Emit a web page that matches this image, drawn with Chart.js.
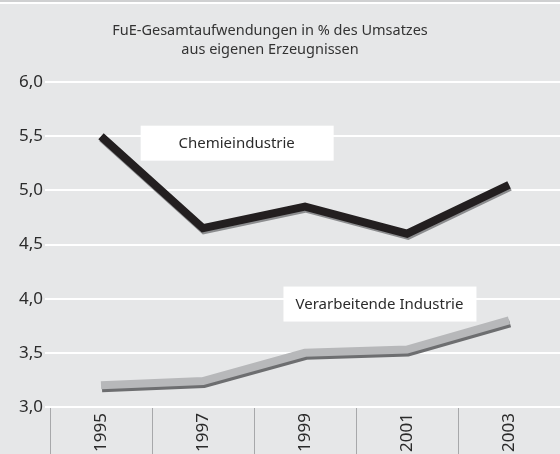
<!DOCTYPE html>
<html>
<head>
<meta charset="utf-8">
<style>
  html, body { margin: 0; padding: 0; background: #e6e7e8; }
  #wrap { width: 560px; height: 454px; }
</style>
<script src="https://cdn.jsdelivr.net/npm/chart.js@4/dist/chart.umd.min.js"></script>
</head>
<body>
<div id="wrap"><canvas id="fueChart" width="560" height="454"></canvas></div>
<script>
const years = ['1995', '1997', '1999', '2001', '2003'];
const chemie = [5.5, 4.65, 4.85, 4.6, 5.05];
const verarbeitend = [3.2, 3.24, 3.5, 3.53, 3.8];
const titleLines = ['FuE-Gesamtaufwendungen in % des Umsatzes', 'aus eigenen Erzeugnissen'];
const seriesNames = ['Chemieindustrie', 'Verarbeitende Industrie'];

const FONT = '"Noto Sans", "DejaVu Sans", sans-serif';

// background, top stripe, title and the two white name boxes
const decor = {
  id: 'decor',
  beforeDraw(chart) {
    const c = chart.ctx;
    c.save();
    c.fillStyle = '#e6e7e8';
    c.fillRect(0, 0, chart.width, chart.height);
    c.fillStyle = '#cfd0d1';
    c.fillRect(0, 0, chart.width, 2);
    c.fillStyle = '#ffffff';
    c.fillRect(0, 2, chart.width, 2);
    c.fillStyle = '#333333';
    c.font = '14.5px ' + FONT;
    c.textAlign = 'center';
    c.textBaseline = 'middle';
    c.fillText(titleLines[0], 270, 31);
    c.fillText(titleLines[1], 270, 50);
    c.restore();
  },
  afterDatasetsDraw(chart) {
    const c = chart.ctx;
    const x = chart.scales.x, y = chart.scales.y;
    const boxes = [
      { text: seriesNames[0], cx: 1.33, cy: 5.44 },
      { text: seriesNames[1], cx: 2.73, cy: 3.955 }
    ];
    c.save();
    c.font = '15px ' + FONT;
    c.textAlign = 'center';
    c.textBaseline = 'middle';
    boxes.forEach(b => {
      const px = x.getPixelForValue(b.cx);
      const py = y.getPixelForValue(b.cy);
      c.fillStyle = '#ffffff';
      c.fillRect(px - 96, py - 17, 193, 35);
      c.fillStyle = '#2b2b2b';
      c.fillText(b.text, px, py + 1);
    });
    c.restore();
  },
  beforeDatasetDraw(chart, args) {
    const c = chart.ctx;
    c.save();
    if (args.index === 0) {
      c.shadowColor = '#8c8d8f';
      c.shadowOffsetX = 1;
      c.shadowOffsetY = 2;
    } else {
      c.shadowColor = '#6d6e70';
      c.shadowOffsetX = 1;
      c.shadowOffsetY = 3;
    }
    c.shadowBlur = 0;
  },
  afterDatasetDraw(chart) {
    chart.ctx.restore();
  }
};

new Chart(document.getElementById('fueChart').getContext('2d'), {
  type: 'line',
  data: {
    labels: years,
    datasets: [
      {
        label: seriesNames[0],
        data: chemie,
        borderColor: '#231f20',
        borderWidth: 8,
        borderCapStyle: 'butt',
        borderJoinStyle: 'miter',
        pointRadius: 0,
        tension: 0
      },
      {
        label: seriesNames[1],
        data: verarbeitend,
        borderColor: '#b7b8ba',
        borderWidth: 8,
        borderCapStyle: 'butt',
        borderJoinStyle: 'miter',
        pointRadius: 0,
        tension: 0
      }
    ]
  },
  options: {
    responsive: false,
    animation: false,
    layout: { padding: { top: 82, left: 0, right: 0, bottom: 0 } },
    plugins: {
      legend: { display: false },
      title: { display: false },
      tooltip: { enabled: false }
    },
    scales: {
      x: {
        offset: true,
        border: { display: false },
        grid: {
          offset: true,
          drawOnChartArea: false,
          drawTicks: true,
          tickLength: 47,
          color: '#a7a8aa',
          lineWidth: 1
        },
        ticks: {
          minRotation: 90,
          maxRotation: 90,
          padding: -41,
          color: '#2b2b2b',
          font: { family: FONT, size: 17 }
        },
        afterFit(scale) { scale.height = 47; }
      },
      y: {
        min: 3,
        max: 6,
        border: { display: false },
        grid: {
          color: '#ffffff',
          lineWidth: 2,
          tickLength: 5,
          tickColor: '#ffffff'
        },
        ticks: {
          stepSize: 0.5,
          padding: 2,
          color: '#2b2b2b',
          font: { family: FONT, size: 17 },
          callback: v => v.toFixed(1).replace('.', ',')
        },
        afterFit(scale) { scale.width = 50; }
      }
    }
  },
  plugins: [decor]
});
</script>
</body>
</html>
